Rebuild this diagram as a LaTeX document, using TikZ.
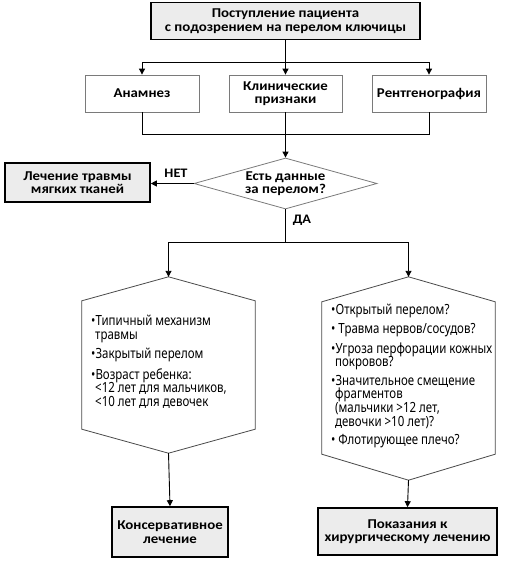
\documentclass[tikz,border=0pt]{standalone}
\usepackage{fontspec}
\setmainfont{Carlito}
\newfontfamily\boxfont[FakeStretch=1.1]{Carlito}
\newfontfamily\hexfont[FakeStretch=0.82]{Noto Sans}
\usetikzlibrary{arrows.meta,shapes.geometric,calc}
\definecolor{boxgray}{HTML}{ECECEC}
\definecolor{thingray}{HTML}{7A7A7A}
\definecolor{hexline}{HTML}{4A4A4A}
\tikzset{
  lbl/.style={font=\boxfont\bfseries\fontsize{13.5}{13.5}\selectfont, align=center},
  mainbox/.style={lbl, draw=black, line width=1.6pt, fill=boxgray, inner sep=0pt},
  plainbox/.style={lbl, draw=thingray, line width=0.8pt, fill=white, inner sep=0pt},
  decision/.style={lbl, diamond, aspect=3.6, draw=thingray, line width=0.8pt, inner sep=0pt},
  hexbody/.style={draw=none, inner sep=0pt},
  hexborder/.style={draw=hexline, line width=0.8pt},
  hextext/.style={font=\hexfont\fontsize{14}{13.6}\selectfont, align=left, inner sep=0pt, anchor=north west},
  conn/.style={draw=black, line width=0.9pt},
  arr/.style={conn, -{Triangle[length=6pt,width=6pt]}},
  edgelbl/.style={font=\boxfont\bfseries\fontsize{13}{13}\selectfont, inner sep=0pt}
}
\begin{document}
\begin{tikzpicture}[x=1pt,y=-1pt]
\useasboundingbox (0,0) rectangle (506,562);
% top
\node[mainbox, minimum width=269pt, minimum height=37pt] (top) at (285.5,21) {Поступление пациента\\с подозрением на перелом ключицы};
\node[plainbox, minimum width=114pt, minimum height=37pt] (a1) at (142,93.5) {Анамнез};
\node[plainbox, minimum width=113pt, minimum height=37pt] (a2) at (285.5,93.5) {Клинические\\признаки};
\node[plainbox, minimum width=114pt, minimum height=37pt] (a3) at (429,93.5) {Рентгенография};
\coordinate (j1) at (285.5,62);
\coordinate (j2) at (285.5,134);
\draw[arr] (top.south) -- (a2.north);
\draw[arr] (j1) -| (a1.north);
\draw[arr] (j1) -| (a3.north);
\draw[conn] (a1.south) |- (j2);
\draw[conn] (a3.south) |- (j2);
\draw[conn] (a2.south) -- (j2);
% decision
\node[decision, minimum width=183pt, minimum height=51pt] (dia) at (285.5,183.5) {Есть данные\\за перелом?};
\draw[arr] (j2) -- (dia.north);
\node[mainbox, minimum width=145pt, minimum height=39pt] (soft) at (77.5,182.5) {Лечение травмы\\мягких тканей};
\draw[arr] (dia.west) -- (soft.east |- dia.west);
\node[edgelbl] (net) at (176,173) {НЕТ};
\node[edgelbl] (da) at (302,220) {ДА};
\coordinate (j3) at (285.5,242);
\draw[conn] (dia.south) -- (j3);
% hexagons
\node[hexbody, minimum width=173pt, minimum height=128pt] (h1) at (168.5,365) {};
\coordinate (h1t) at ($(h1.north)+(0,-24)$);
\coordinate (h1b) at ($(h1.south)+(0,24)$);
\draw[hexborder] (h1.north west) -- (h1t) -- (h1.north east) -- (h1.south east) -- (h1b) -- (h1.south west) -- cycle;
\node[hexbody, minimum width=173pt, minimum height=152pt] (h2) at (408.5,378) {};
\coordinate (h2t) at ($(h2.north)+(0,-25)$);
\coordinate (h2b) at ($(h2.south)+(0,26)$);
\draw[hexborder] (h2.north west) -- (h2t) -- (h2.north east) -- (h2.south east) -- (h2b) -- (h2.south west) -- cycle;
\draw[arr] (j3) -| (h1t);
\draw[arr] (j3) -| (h2t);
\node[hextext] (t1) at (91,315) {•Типичный механизм\\\hspace*{4pt}травмы\\[5pt]•Закрытый перелом\\[5pt]•Возраст ребенка:\\\hspace*{4pt}<12 лет для мальчиков,\\\hspace*{4pt}<10 лет для девочек};
\node[hextext] (t2) at (331,304) {•Открытый перелом?\\[5pt]• Травма нервов/сосудов?\\[5pt]•Угроза перфорации кожных\\\hspace*{4pt}покровов?\\[5pt]•Значительное смещение\\\hspace*{4pt}фрагментов\\\hspace*{4pt}(мальчики >12 лет,\\\hspace*{4pt}девочки >10 лет)?\\[5pt]• Флотирующее плечо?};
% bottom
\node[mainbox, minimum width=116pt, minimum height=50pt] (b1) at (170,532) {Консервативное\\лечение};
\node[mainbox, minimum width=179pt, minimum height=47pt] (b2) at (407.5,531.5) {Показания к\\хирургическому лечению};
\draw[arr] (h1b) -- (b1.north);
\draw[arr] (h2b) -- (b2.north);
\end{tikzpicture}
\end{document}
